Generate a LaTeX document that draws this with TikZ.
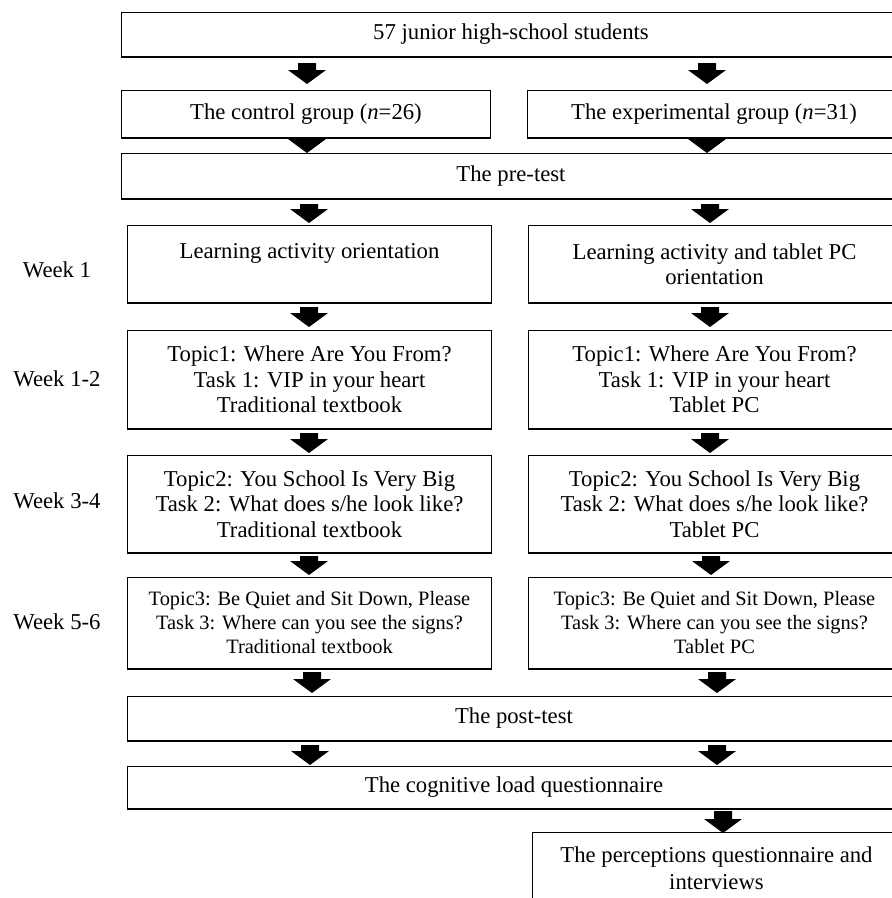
\documentclass[tikz,border=0pt]{standalone}
\usepackage{fontspec}
\setmainfont{Liberation Serif}
\usetikzlibrary{calc}
\newcommand\blkarrow[2]{\fill let \p1=(#1), \p2=(#2) in (\x1-9pt,\y1) -- (\x1+9pt,\y1) -- (\x1+9pt,\y2+14pt) -- (\x1+19pt,\y2+14pt) -- (\x1,\y2) -- (\x1-19pt,\y2+14pt) -- (\x1-9pt,\y2+14pt) -- cycle;}
\begin{document}
\begin{tikzpicture}[x=1pt,y=-1pt,
  box/.style={draw, line width=1pt, inner sep=0pt, align=center, anchor=north west,
    font=\fontsize{22.7}{25.5}\selectfont},
  smallbox/.style={box, font=\fontsize{20.4}{24}\selectfont},
  wk/.style={font=\fontsize{22.7}{25.5}\selectfont, inner sep=0pt}]
\useasboundingbox (0,0) rectangle (892,898);
\clip (0,0) rectangle (892,898);
% boxes
\node[box, minimum width=779, minimum height=44] (b0) at (121,12) {57 junior high-school students};
\node[box, minimum width=369, minimum height=47] (ctl) at (121,90) {The control group (\textit{n}=26)};
\node[box, minimum width=373, minimum height=47] (exp) at (527,90) {The experimental group (\textit{n}=31)};
\node[box, minimum width=779, minimum height=45] (pre) at (121,153) {The pre-test};
\node[box, minimum width=364, minimum height=77] (w1l) at (127,225) {Learning activity orientation\\\mbox{}};
\node[box, minimum width=372, minimum height=77] (w1r) at (528,225) {Learning activity and tablet PC\\orientation};
\node[box, minimum width=364, minimum height=98] (w2l) at (127,330) {Topic1: Where Are You From?\\Task 1: VIP in your heart\\Traditional textbook};
\node[box, minimum width=372, minimum height=98] (w2r) at (528,330) {Topic1: Where Are You From?\\Task 1: VIP in your heart\\Tablet PC};
\node[box, minimum width=364, minimum height=97] (w3l) at (127,455) {Topic2: You School Is Very Big\\Task 2: What does s/he look like?\\Traditional textbook};
\node[box, minimum width=372, minimum height=97] (w3r) at (528,455) {Topic2: You School Is Very Big\\Task 2: What does s/he look like?\\Tablet PC};
\node[smallbox, minimum width=364, minimum height=91] (w4l) at (127,577) {Topic3: Be Quiet and Sit Down, Please\\Task 3: Where can you see the signs?\\Traditional textbook};
\node[smallbox, minimum width=372, minimum height=91] (w4r) at (528,577) {Topic3: Be Quiet and Sit Down, Please\\Task 3: Where can you see the signs?\\Tablet PC};
\node[box, minimum width=773, minimum height=44] (post) at (127,696) {The post-test};
\node[box, minimum width=773, minimum height=42] (cog) at (127,766) {The cognitive load questionnaire};
\node[box, minimum width=368, minimum height=72, font=\fontsize{22.7}{27}\selectfont] (perc) at (532,832) {The perceptions questionnaire and\\interviews};
% thicker bottom edges
\foreach \n in {b0,ctl,exp,pre,w1l,w1r,w2l,w2r,w3l,w3r,w4l,w4r,post,cog}
  \draw[line width=2pt] (\n.south west) -- (\n.south east);
% week labels
\node[wk] (lw1) at (57,270) {Week 1};
\node[wk] (lw2) at (57,379) {Week 1-2};
\node[wk] (lw3) at (57,501) {Week 3-4};
\node[wk] (lw4) at (57,622) {Week 5-6};
% block arrows
\blkarrow{$(307,0 |- b0.south)+(0,6)$}{$(307,0 |- ctl.north)+(0,-6)$}
\blkarrow{$(707,0 |- b0.south)+(0,6)$}{$(707,0 |- exp.north)+(0,-6)$}
\blkarrow{$(307,0 |- ctl.south)+(0,1)$}{$(307,0 |- pre.north)+(0,0)$}
\blkarrow{$(707,0 |- exp.south)+(0,1)$}{$(707,0 |- pre.north)+(0,0)$}
\blkarrow{$(309,0 |- pre.south)+(0,5)$}{$(309,0 |- w1l.north)+(0,-2)$}
\blkarrow{$(710,0 |- pre.south)+(0,5)$}{$(710,0 |- w1r.north)+(0,-2)$}
\blkarrow{$(309,0 |- w1l.south)+(0,4)$}{$(309,0 |- w2l.north)+(0,-3)$}
\blkarrow{$(710,0 |- w1r.south)+(0,4)$}{$(710,0 |- w2r.north)+(0,-3)$}
\blkarrow{$(309,0 |- w2l.south)+(0,4)$}{$(309,0 |- w3l.north)+(0,-2)$}
\blkarrow{$(710,0 |- w2r.south)+(0,4)$}{$(710,0 |- w3r.north)+(0,-2)$}
\blkarrow{$(309,0 |- w3l.south)+(0,3)$}{$(309,0 |- w4l.north)+(0,-2)$}
\blkarrow{$(711,0 |- w3r.south)+(0,3)$}{$(711,0 |- w4r.north)+(0,-2)$}
\blkarrow{$(312,0 |- w4l.south)+(0,3)$}{$(312,0 |- post.north)+(0,-3)$}
\blkarrow{$(717,0 |- w4r.south)+(0,3)$}{$(717,0 |- post.north)+(0,-3)$}
\blkarrow{$(310,0 |- post.south)+(0,4)$}{$(310,0 |- cog.north)+(0,-1)$}
\blkarrow{$(717,0 |- post.south)+(0,4)$}{$(717,0 |- cog.north)+(0,-1)$}
\blkarrow{$(723,0 |- cog.south)+(0,2)$}{$(723,0 |- perc.north)+(0,1)$}
\end{tikzpicture}
\end{document}
